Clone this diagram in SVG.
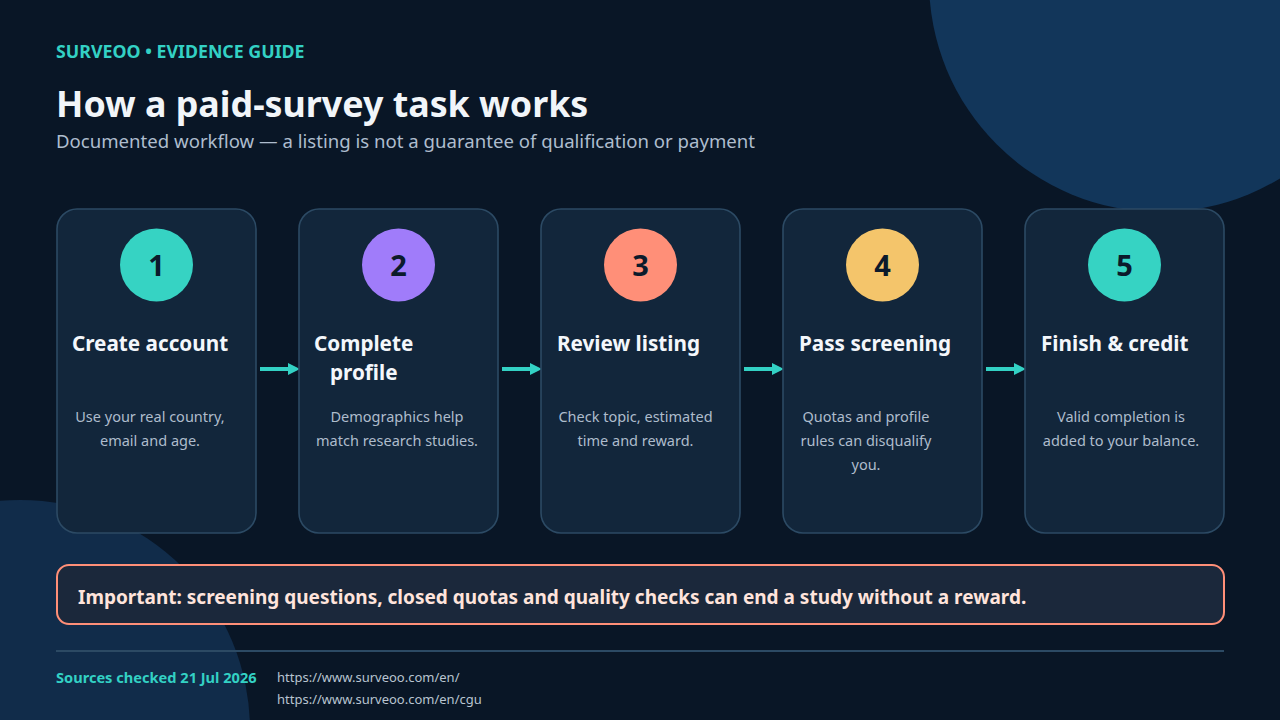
<svg xmlns="http://www.w3.org/2000/svg" width="1280" height="720" viewBox="0 0 1280 720">
<style>
.card{fill:#12263b;stroke:#2c4a64;stroke-width:1.6}
.num{font-family:"Noto Sans","Open Sans",sans-serif;font-weight:700;font-size:29px;fill:#0b1a2b;text-anchor:middle}
.ttl{font-family:"Noto Sans","Open Sans",sans-serif;font-weight:700;font-size:20.7px;fill:#f4f7fb}
.desc{font-family:"Noto Sans","Open Sans",sans-serif;font-size:14.5px;fill:#aebccc;text-anchor:middle}
.arr{stroke:#33d1c4;stroke-width:4;fill:none}
</style>
<defs>
<marker id="ah" viewBox="0 0 10 10" refX="0" refY="5" markerWidth="3" markerHeight="3.5" orient="auto" markerUnits="strokeWidth">
<path d="M0,0 L10,5 L0,10 Z" fill="#33d1c4"/>
</marker>
</defs>
<rect width="1280" height="720" fill="#091626"/>
<circle cx="1160" cy="-19" r="231" fill="#12365a"/>
<circle cx="20" cy="730" r="230" fill="#112c4a"/>

<g id="header">
<text x="56" y="58" font-family="Noto Sans,Open Sans,sans-serif" font-weight="700" font-size="17.8" fill="#33d1c4">SURVEOO • EVIDENCE GUIDE</text>
<text x="56" y="117" font-family="Noto Sans,Open Sans,sans-serif" font-weight="700" font-size="35.8" fill="#f1f5f9">How a paid-survey task works</text>
<text x="56" y="148" font-family="Noto Sans,Open Sans,sans-serif" font-size="18.6" fill="#aebdce">Documented workflow — a listing is not a guarantee of qualification or payment</text>
</g>

<g id="connectors">
<line class="arr" x1="260" y1="369" x2="288" y2="369" marker-end="url(#ah)"/>
<line class="arr" x1="502" y1="369" x2="530" y2="369" marker-end="url(#ah)"/>
<line class="arr" x1="744" y1="369" x2="772" y2="369" marker-end="url(#ah)"/>
<line class="arr" x1="986" y1="369" x2="1014" y2="369" marker-end="url(#ah)"/>
</g>

<g id="step1">
<rect class="card" x="57" y="209" width="199" height="324" rx="20"/>
<circle cx="156.5" cy="265" r="36.5" fill="#36d3c3"/>
<text class="num" x="156.5" y="276">1</text>
<text class="ttl" x="72" y="351">Create account</text>
<text class="desc" x="150" y="422">Use your real country,</text>
<text class="desc" x="150" y="446">email and age.</text>
</g>

<g id="step2">
<rect class="card" x="299" y="209" width="199" height="324" rx="20"/>
<circle cx="398.5" cy="265" r="36.5" fill="#a07cfa"/>
<text class="num" x="398.5" y="276">2</text>
<text class="ttl" x="314" y="351">Complete</text>
<text class="ttl" x="330" y="380">profile</text>
<text class="desc" x="397" y="422">Demographics help</text>
<text class="desc" x="397" y="446">match research studies.</text>
</g>

<g id="step3">
<rect class="card" x="541" y="209" width="199" height="324" rx="20"/>
<circle cx="640.5" cy="265" r="36.5" fill="#ff8f78"/>
<text class="num" x="640.5" y="276">3</text>
<text class="ttl" x="557" y="351">Review listing</text>
<text class="desc" x="635.5" y="422">Check topic, estimated</text>
<text class="desc" x="635.5" y="446">time and reward.</text>
</g>

<g id="step4">
<rect class="card" x="783" y="209" width="199" height="324" rx="20"/>
<circle cx="882.5" cy="265" r="36.5" fill="#f4c56b"/>
<text class="num" x="882.5" y="276">4</text>
<text class="ttl" x="799" y="351">Pass screening</text>
<text class="desc" x="866" y="422">Quotas and profile</text>
<text class="desc" x="866" y="446">rules can disqualify</text>
<text class="desc" x="866" y="470">you.</text>
</g>

<g id="step5">
<rect class="card" x="1025" y="209" width="199" height="324" rx="20"/>
<circle cx="1124.5" cy="265" r="36.5" fill="#36d3c3"/>
<text class="num" x="1124.5" y="276">5</text>
<text class="ttl" x="1041" y="351">Finish &amp; credit</text>
<text class="desc" x="1121" y="422">Valid completion is</text>
<text class="desc" x="1121" y="446">added to your balance.</text>
</g>

<g id="important">
<rect x="57" y="565" width="1167" height="59" rx="12" fill="#1b283b" stroke="#ff8f78" stroke-width="2"/>
<text x="78" y="604" font-family="Noto Sans,Open Sans,sans-serif" font-weight="700" font-size="19" fill="#ffe4dc">Important: screening questions, closed quotas and quality checks can end a study without a reward.</text>
</g>

<g id="footer">
<line x1="56" y1="651" x2="1224" y2="651" stroke="#2c4a64" stroke-width="2"/>
<text x="56" y="683" font-family="Noto Sans,Open Sans,sans-serif" font-weight="700" font-size="14.6" fill="#33d1c4">Sources checked 21 Jul 2026</text>
<text x="277" y="682" font-family="Noto Sans,Open Sans,sans-serif" font-size="13" fill="#b8c4d0">https://www.surveoo.com/en/</text>
<text x="277" y="704" font-family="Noto Sans,Open Sans,sans-serif" font-size="13" fill="#b8c4d0">https://www.surveoo.com/en/cgu</text>
</g>
</svg>
